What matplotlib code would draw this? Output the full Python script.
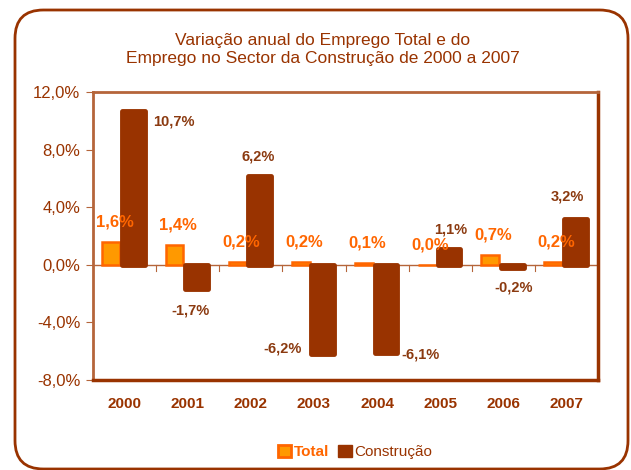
import numpy as np
import matplotlib.pyplot as plt
from matplotlib.patches import FancyBboxPatch, Patch

plt.rcParams['font.family'] = ['Liberation Sans', 'DejaVu Sans']

# data
years = ['2000', '2001', '2002', '2003', '2004', '2005', '2006', '2007']
total = [1.6, 1.4, 0.2, 0.2, 0.1, 0.0, 0.7, 0.2]
construcao = [10.7, -1.7, 6.2, -6.2, -6.1, 1.1, -0.2, 3.2]
yticks = [-8, -4, 0, 4, 8, 12]

# label offsets in points (dx, dy) relative to bar end, label centred
total_off = [(2.5, 14.5)] * 8
constr_off = [(29, -8), (-4, -15), (-1, 14), (-29, 4), (25, -1.5), (1, 14), (1, -14), (-6, 16)]

BROWN = '#993300'
ORANGE = '#FF6600'
FILL = '#FF9900'

fig = plt.figure(figsize=(6.31, 4.70), dpi=100)

# rounded outer frame
frame = FancyBboxPatch((15 / 631, 1 / 470), 613 / 631, 459 / 470,
                       boxstyle='round,pad=0,rounding_size=0.045',
                       mutation_aspect=631 / 470,
                       transform=fig.transFigure, fill=False,
                       edgecolor=BROWN, linewidth=2)
fig.patches.append(frame)

fig.text(0.511, 0.894, 'Variação anual do Emprego Total e do\nEmprego no Sector da Construção de 2000 a 2007',
         ha='center', va='center', fontsize=12.5, color=BROWN, linespacing=1.25)

ax = fig.add_axes([93 / 631, 1 - 380 / 470, 505 / 631, 288 / 470])
x = np.arange(len(years))

ax.bar(x - 0.21, total, width=0.28, color=FILL, edgecolor=ORANGE, linewidth=1.8, zorder=3)
ax.bar(x + 0.14, construcao, width=0.36, color=BROWN, edgecolor=BROWN, linewidth=3.5,
       joinstyle='round', zorder=4)

for i, v in enumerate(total):
    ax.annotate(f'{v:.1f}%'.replace('.', ','), (x[i] - 0.21, v), xytext=total_off[i],
                textcoords='offset points', ha='center', va='center',
                fontsize=12, fontweight='bold', color=ORANGE, zorder=6)
for i, v in enumerate(construcao):
    ax.annotate(f'{v:.1f}%'.replace('.', ','), (x[i] + 0.14, v), xytext=constr_off[i],
                textcoords='offset points', ha='center', va='center',
                fontsize=10.5, fontweight='bold', color='#8B3A10', zorder=6)

ax.axhline(0, color='#B5653A', linewidth=1, zorder=2)
for b in x[:-1] + 0.5:
    ax.plot([b, b], [0, -0.4], color='#B5653A', linewidth=0.8, zorder=2)

ax.set_xlim(-0.5, len(years) - 0.5)
ax.set_ylim(-8, 12)
ax.set_yticks(yticks)
ax.set_yticklabels([f'{t:.1f}%'.replace('.', ',') for t in yticks], fontsize=12, color=BROWN)
ax.set_xticks(x)
ax.set_xticklabels(years, fontsize=11, fontweight='bold', color=BROWN)
ax.tick_params(axis='x', length=0, pad=12)
ax.tick_params(axis='y', length=5, color='#B5653A', pad=4)
for side in ['top', 'left']:
    ax.spines[side].set_color('#B5653A')
    ax.spines[side].set_linewidth(2)
for side in ['bottom', 'right']:
    ax.spines[side].set_color(BROWN)
    ax.spines[side].set_linewidth(2.5)

handles = [Patch(facecolor=FILL, edgecolor=ORANGE, linewidth=2, label='Total'),
           Patch(facecolor=BROWN, edgecolor=BROWN, label='Construção')]
leg = fig.legend(handles=handles, loc='center', bbox_to_anchor=(355 / 631, 1 - 452 / 470),
                 ncol=2, frameon=False, fontsize=11, handlelength=0.9, handleheight=0.9,
                 handletextpad=0.15, columnspacing=0.6)
texts = leg.get_texts()
texts[0].set_color(ORANGE)
texts[0].set_fontweight('bold')
texts[1].set_color(BROWN)

fig.savefig('out.png', dpi=100)
